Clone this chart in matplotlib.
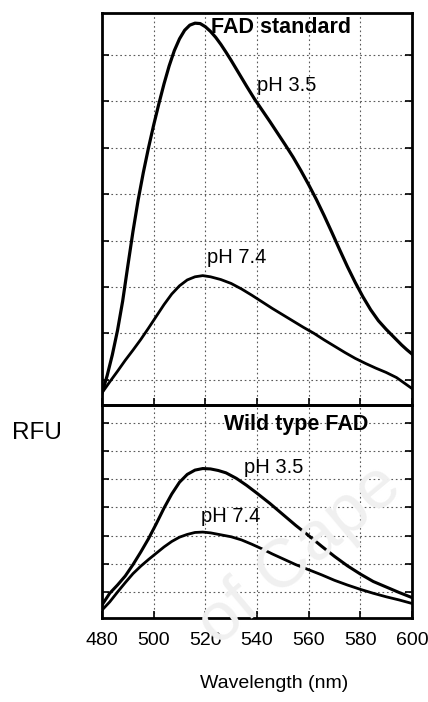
import matplotlib.pyplot as plt
import numpy as np

plt.rcParams['font.family'] = ['Liberation Sans', 'DejaVu Sans']

# emission spectra: wavelength (nm) and intensity (relative fluorescence units)
std_wl_35 = [480, 482, 484, 486, 488, 490, 492, 494, 496, 498, 500, 502, 504,
             506, 508, 510, 512, 514, 516, 518, 520, 522, 524, 526, 528, 530,
             533, 536, 539, 542, 545, 548, 551, 554, 557, 560, 563, 566, 569,
             572, 575, 578, 581, 584, 587, 590, 593, 596, 598, 600]
std_rfu_35 = [3.0, 7.5, 12.8, 19.0, 26.5, 35.5, 44.3, 52.3, 59.3, 65.6, 71.4,
              76.8, 81.9, 86.5, 90.4, 93.4, 95.6, 96.9, 97.4, 97.3, 96.5, 95.3,
              93.8, 92.0, 90.0, 87.9, 84.6, 81.3, 78.1, 75.2, 72.3, 69.3, 66.3,
              63.2, 59.8, 56.2, 52.4, 48.3, 44.0, 39.6, 35.3, 31.3, 27.6, 24.3,
              21.5, 19.3, 17.3, 15.3, 14.1, 13.0]

std_wl_74 = [480, 483, 486, 489, 492, 495, 498, 501, 504, 507, 510, 513, 516,
             519, 522, 526, 530, 534, 538, 542, 546, 550, 554, 558, 562, 566,
             570, 574, 578, 582, 586, 590, 594, 597, 600]
std_rfu_74 = [3.1, 5.9, 8.6, 11.4, 14.0, 16.7, 19.6, 22.6, 25.6, 28.3, 30.4,
              31.9, 32.7, 33.0, 32.7, 32.0, 31.0, 29.6, 28.0, 26.3, 24.6, 23.0,
              21.4, 19.8, 18.3, 16.6, 15.0, 13.4, 11.9, 10.6, 9.4, 8.3, 7.0,
              5.6, 4.2]

wt_wl_35 = [480, 483, 486, 489, 492, 495, 498, 501, 504, 507, 510, 513, 516,
            519, 522, 525, 528, 532, 536, 540, 545, 550, 555, 560, 565, 570,
            575, 580, 585, 590, 595, 600]
wt_rfu_35 = [3.3, 6.3, 8.4, 10.7, 13.6, 16.8, 20.2, 24.0, 28.0, 31.6, 34.6,
             36.6, 37.7, 38.1, 38.0, 37.6, 37.0, 35.6, 33.8, 31.8, 29.2, 26.4,
             23.6, 21.0, 18.3, 15.7, 13.3, 11.2, 9.3, 7.9, 6.5, 5.2]

wt_wl_74 = [480, 483, 486, 489, 492, 495, 498, 501, 504, 507, 510, 513, 516,
            519, 522, 526, 530, 534, 538, 542, 546, 550, 555, 560, 565, 570,
            575, 580, 585, 590, 595, 600]
wt_rfu_74 = [2.0, 4.1, 6.6, 9.0, 11.3, 13.2, 14.9, 16.5, 18.1, 19.5, 20.6,
             21.3, 21.8, 21.9, 21.7, 21.2, 20.7, 19.9, 18.8, 17.6, 16.3, 15.1,
             13.6, 12.3, 11.0, 9.6, 8.4, 7.3, 6.3, 5.4, 4.6, 3.7]

xticks = [480, 500, 520, 540, 560, 580, 600]

fig = plt.figure(figsize=(4.28, 7.02), dpi=100)

# very light diagonal watermark behind the panels
fig.text(300 / 428, 1 - 555 / 702, 'of Cape', fontsize=50, color='#f0f0f0',
         rotation=40, ha='center', va='center', zorder=0)

ax1 = fig.add_axes([0.2383, 0.4231, 0.7243, 0.5584])
ax2 = fig.add_axes([0.2383, 0.1197, 0.7243, 0.3034])

for ax in (ax1, ax2):
    ax.set_facecolor('none')
    ax.set_xlim(480, 600)
    ax.set_xticks(xticks)
    ax.grid(True, color='0.35', linestyle=(0, (1.5, 2.5)), linewidth=0.8)
    ax.tick_params(direction='in', length=5, width=1.2, left=True, right=True,
                   labelleft=False)
    for s in ax.spines.values():
        s.set_linewidth(2.0)

ax1.set_ylim(0, 100)
ax1.set_yticks(np.arange(6.4, 95, 11.85))
ax1.tick_params(labelbottom=False)
ax1.plot(std_wl_35, std_rfu_35, color='black', lw=2.3)
ax1.plot(std_wl_74, std_rfu_74, color='black', lw=2.0)
ax1.text(549.3, 96.4, 'FAD standard', fontsize=15.5, fontweight='bold',
         ha='center', va='center')
ax1.text(551.6, 81.6, 'pH 3.5', fontsize=14.5, ha='center', va='center')
ax1.text(532.3, 37.5, 'pH 7.4', fontsize=14.5, ha='center', va='center')

ax2.set_ylim(0, 54.3)
ax2.set_yticks(np.arange(6.6, 54, 7.2))
ax2.tick_params(axis='x', pad=10, labelsize=14)
ax2.plot(wt_wl_35, wt_rfu_35, color='black', lw=2.2)
ax2.plot(wt_wl_74, wt_rfu_74, color='black', lw=2.0)
ax2.text(555.1, 49.2, 'Wild type FAD', fontsize=15.5, fontweight='bold',
         ha='center', va='center')
ax2.text(546.6, 38.3, 'pH 3.5', fontsize=14.5, ha='center', va='center')
ax2.text(529.9, 25.8, 'pH 7.4', fontsize=14.5, ha='center', va='center')

fig.text(37 / 428, 1 - 433 / 702, 'RFU', fontsize=17.5, ha='center', va='center')
fig.text(274 / 428, 1 - 683 / 702, 'Wavelength (nm)', fontsize=14,
         ha='center', va='center')

fig.savefig('out.png', dpi=100)
